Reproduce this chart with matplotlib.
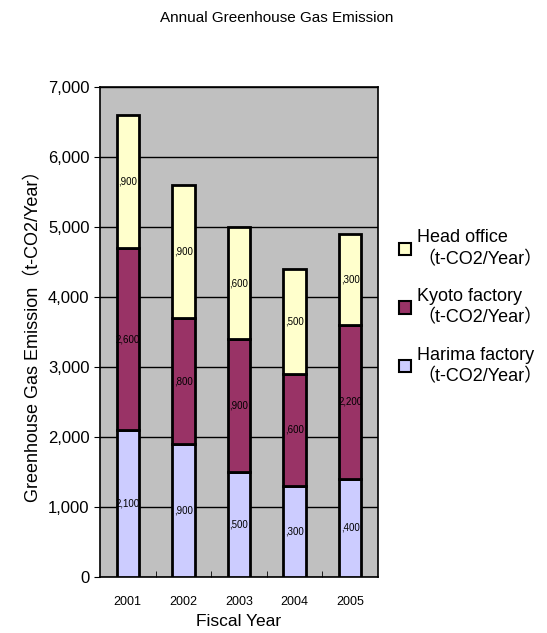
import matplotlib.pyplot as plt
from matplotlib.patches import Patch
from matplotlib.ticker import FuncFormatter

plt.rcParams['font.family'] = ['Liberation Sans', 'Noto Sans CJK JP', 'DejaVu Sans']

# data
years = ['2001', '2002', '2003', '2004', '2005']
harima = [2100, 1900, 1500, 1300, 1400]
kyoto = [2600, 1800, 1900, 1600, 2200]
head = [1900, 1900, 1600, 1500, 1300]

c_head = '#FFFFCC'
c_kyoto = '#993366'
c_harima = '#CCCCFF'


def lab(v):
    # leading "1" is hidden behind the bar edge in the original
    s = f"{v:,}"
    if v < 2000:
        s = s[1:]
    return s


fig = plt.figure(figsize=(5.47, 6.33), dpi=100)
ax = fig.add_axes([100/547, 1-577/633, 278/547, 490/633])
ax.set_facecolor('#C0C0C0')

x = range(len(years))
w = 0.4
ax.bar(x, harima, w, color=c_harima, edgecolor='black', linewidth=2, zorder=3)
ax.bar(x, kyoto, w, bottom=harima, color=c_kyoto, edgecolor='black', linewidth=2, zorder=3)
bot3 = [a + b for a, b in zip(harima, kyoto)]
ax.bar(x, head, w, bottom=bot3, color=c_head, edgecolor='black', linewidth=2, zorder=3)

for i in x:
    ax.text(i, harima[i] / 2, lab(harima[i]), ha='center', va='center', fontsize=7, zorder=4)
    ax.text(i, harima[i] + kyoto[i] / 2, lab(kyoto[i]), ha='center', va='center', fontsize=7, zorder=4)
    ax.text(i, bot3[i] + head[i] / 2, lab(head[i]), ha='center', va='center', fontsize=7, zorder=4)

ax.set_xlim(-0.5, 4.5)
ax.set_ylim(0, 7000)
ax.set_yticks(range(0, 7001, 1000))
ax.yaxis.set_major_formatter(FuncFormatter(lambda v, p: f"{int(v):,}"))
ax.grid(axis='y', color='black', linewidth=1, zorder=1)
ax.set_xticks(list(x))
ax.set_xticklabels(years, fontsize=9)
ax.set_xticks([0.5, 1.5, 2.5, 3.5], minor=True)
ax.tick_params(axis='x', which='major', length=0, pad=14)
ax.tick_params(axis='x', which='minor', length=4, direction='in')
ax.tick_params(axis='y', labelsize=12, length=4, direction='out')
for s in ax.spines.values():
    s.set_linewidth(1.2)

ax.set_ylabel('Greenhouse Gas Emission（t-CO2/Year）', fontsize=13, labelpad=4)
ax.set_xlabel('Fiscal Year', fontsize=12.5, labelpad=4)
fig.text(0.505, 1-18/633, 'Annual Greenhouse Gas Emission', ha='center', va='center', fontsize=11)

handles = [Patch(facecolor=c_head, edgecolor='black', linewidth=1.5),
           Patch(facecolor=c_kyoto, edgecolor='black', linewidth=1.5),
           Patch(facecolor=c_harima, edgecolor='black', linewidth=1.5)]
labels = ['Head office\n（t-CO2/Year）', 'Kyoto factory\n（t-CO2/Year）', 'Harima factory\n（t-CO2/Year）']
leg = fig.legend(handles, labels, loc='upper left', bbox_to_anchor=(392/547, 1-222/633),
                 frameon=False, fontsize=13, handlelength=0.65, handleheight=0.65,
                 handletextpad=0.35, labelspacing=1.1, borderaxespad=0)
for t in leg.get_texts():
    t.set_linespacing(1.35)

fig.savefig('out.png', dpi=100)
